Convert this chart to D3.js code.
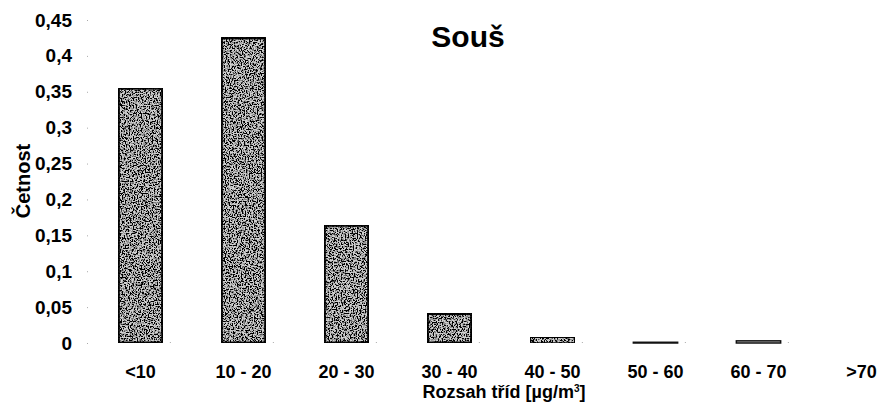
<!DOCTYPE html>
<html><head><meta charset="utf-8">
<script src="https://cdn.jsdelivr.net/npm/d3@7/dist/d3.min.js"></script>
<style>body{margin:0;background:#fff}svg{display:block}text{font-family:"Liberation Sans",Arial,sans-serif;font-weight:bold;fill:#000}</style>
</head><body><svg id="c" width="885" height="406"></svg>
<script>
const categories = ["<10","10 - 20","20 - 30","30 - 40","40 - 50","50 - 60","60 - 70",">70"];
const values = [0.355,0.425,0.164,0.041,0.008,0.001,0.003,0];
const yTicks = [0,0.05,0.1,0.15,0.2,0.25,0.3,0.35,0.4,0.45];
const title = "Souš";
const yTitle = "Četnost";
const xTitle = "Rozsah tříd [µg/m";

const svg = d3.select("#c");
const defs = svg.append("defs");
const f = defs.append("filter").attr("id","speck").attr("x","0").attr("y","0").attr("width","1").attr("height","1");
f.append("feTurbulence").attr("type","fractalNoise").attr("baseFrequency","0.75").attr("numOctaves","2").attr("seed","3").attr("result","n");
f.append("feColorMatrix").attr("in","n").attr("type","matrix")
 .attr("values","0 0 0 0 0  0 0 0 0 0  0 0 0 0 0  -6 0 0 0 3.5").attr("result","dots");
f.append("feComposite").attr("in","dots").attr("in2","SourceGraphic").attr("operator","in").attr("result","d2");
f.append("feMerge").selectAll("feMergeNode").data(["SourceGraphic","d2"]).join("feMergeNode").attr("in",d=>d);

const x = d3.scaleBand().domain(categories).range([89,913]).paddingInner(0.57).paddingOuter(0.285);
const y = d3.scaleLinear().domain([0,0.45]).range([343,20]);
const fs = "18px";

// y axis
const ya = svg.append("g").attr("transform","translate(88,0)")
 .call(d3.axisLeft(y).tickValues(yTicks).tickSize(1).tickPadding(15).tickFormat(d=>String(+d.toFixed(2)).replace(".",",")));
ya.select(".domain").remove();
ya.selectAll("line").attr("stroke","#aaa");
ya.selectAll("text").style("font-size","19px").style("font-family","Liberation Sans, Arial").style("font-weight","bold");

// x axis
const xa = svg.append("g").attr("transform","translate(0,343)")
 .call(d3.axisBottom(x).tickSize(0).tickPadding(22));
xa.select(".domain").remove();
xa.selectAll("text").style("font-size",fs).style("font-family","Liberation Sans, Arial").style("font-weight","bold");
// separator dots on baseline
svg.append("g").selectAll("rect").data(categories.slice(1)).join("rect")
 .attr("x",d=>x(d)-x.step()*x.paddingInner()/2-x.step()*(1-x.paddingInner())/2 ).attr("y",342).attr("width",1).attr("height",1).attr("fill","#aaa");

// bars
svg.append("g").selectAll("rect").data(values.map((v,i)=>({c:categories[i],v}))).join("rect")
 .attr("x",d=>x(d.c)).attr("width",x.bandwidth())
 .attr("y",d=>y(d.v)).attr("height",d=>y(0)-y(d.v))
 .attr("fill","#d0d0d0").attr("stroke","#111").attr("stroke-width",d=>d.v>0.01?3:1.5)
 .attr("filter",d=>d.v>0.005?"url(#speck)":null);

svg.append("text").attr("x",468).attr("y",47).attr("text-anchor","middle").style("font-size","30px").text(title);
svg.append("text").attr("transform","translate(30,181) rotate(-90)").attr("text-anchor","middle").style("font-size","20px").text(yTitle);
const xt = svg.append("text").attr("x",504).attr("y",398).attr("text-anchor","middle").style("font-size","18px");
xt.append("tspan").text(xTitle);
xt.append("tspan").attr("dy",-6).style("font-size","10px").text("3");
xt.append("tspan").attr("dy",6).text("]");
</script></body></html>
